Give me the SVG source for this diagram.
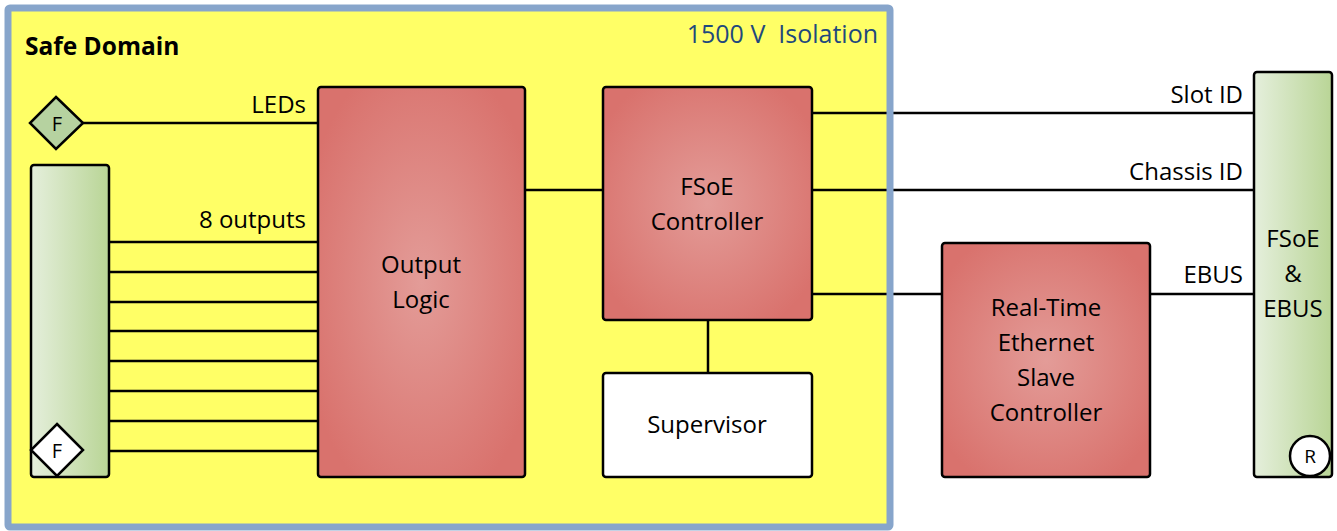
<svg xmlns="http://www.w3.org/2000/svg" width="1337" height="531" viewBox="0 0 1337 531">
<style>
.t{font-family:"Open Sans","Noto Sans",sans-serif;font-size:24px;fill:#000}
.m{text-anchor:middle}
.e{text-anchor:end}
.ln{stroke:#000;stroke-width:2.5;fill:none}
.red{fill:url(#rg);stroke:#000;stroke-width:2.5}
.grn{fill:url(#lg);stroke:#000;stroke-width:2.5}
</style>
<defs>
<radialGradient id="rg" cx="50%" cy="50%" r="60%">
<stop offset="0" stop-color="#e39c98"/>
<stop offset="1" stop-color="#d9726d"/>
</radialGradient>
<linearGradient id="lg" x1="0" y1="0" x2="1" y2="0">
<stop offset="0" stop-color="#e5efdc"/>
<stop offset="1" stop-color="#b9d596"/>
</linearGradient>
</defs>
<rect width="1337" height="531" fill="#fff"/>
<rect id="safe-fill" x="8" y="8" width="882" height="519" fill="#ffff66"/>
<g id="connectors">
<line class="ln" x1="83" y1="123" x2="318" y2="123"/>
<line class="ln" x1="109" y1="242" x2="318" y2="242"/>
<line class="ln" x1="109" y1="272" x2="318" y2="272"/>
<line class="ln" x1="109" y1="302" x2="318" y2="302"/>
<line class="ln" x1="109" y1="331" x2="318" y2="331"/>
<line class="ln" x1="109" y1="361" x2="318" y2="361"/>
<line class="ln" x1="109" y1="391" x2="318" y2="391"/>
<line class="ln" x1="109" y1="421" x2="318" y2="421"/>
<line class="ln" x1="109" y1="451" x2="318" y2="451"/>
<line class="ln" x1="525" y1="190" x2="603" y2="190"/>
<line class="ln" x1="708" y1="320" x2="708" y2="373"/>
<line class="ln" x1="812" y1="113" x2="1254" y2="113"/>
<line class="ln" x1="812" y1="190" x2="1254" y2="190"/>
<line class="ln" x1="812" y1="294" x2="942" y2="294"/>
<line class="ln" x1="1150" y1="294" x2="1254" y2="294"/>
</g>
<g id="safe-domain">
<rect x="8" y="8" width="882" height="519" rx="2" fill="none" stroke="#87a5cb" stroke-width="7"/>
<text x="25" y="55" style="font-family:'Open Sans','Noto Sans',sans-serif;font-size:24.5px;font-weight:bold">Safe Domain</text>
<text class="t e" x="878" y="43" xml:space="preserve" style="fill:#1f497d;font-size:25px">1500 V  Isolation</text>
</g>
<g id="labels">
<text class="t e" x="306" y="113">LEDs</text>
<text class="t e" x="306" y="228">8 outputs</text>
<text class="t e" x="1243" y="103">Slot ID</text>
<text class="t e" x="1243" y="180">Chassis ID</text>
<text class="t e" x="1243" y="283">EBUS</text>
</g>
<g id="led-diamond">
<polygon points="56,97 83,123 56,149 30,123" fill="#b6d2a0" stroke="#000" stroke-width="2.5"/>
<text class="t m" x="57" y="131" style="font-size:20px">F</text>
</g>
<g id="output-connector">
<rect class="grn" x="31" y="165" width="78" height="312" rx="3"/>
<polygon points="57,424 83,450 57,476 31,450" fill="#fff" stroke="#000" stroke-width="2.5"/>
<text class="t m" x="57" y="458" style="font-size:20px">F</text>
</g>
<g id="output-logic">
<rect class="red" x="318" y="87" width="207" height="390" rx="3"/>
<text class="t m" x="421" y="273">Output</text>
<text class="t m" x="421" y="308">Logic</text>
</g>
<g id="fsoe-controller">
<rect class="red" x="603" y="87" width="209" height="233" rx="3"/>
<text class="t m" x="707" y="195">FSoE</text>
<text class="t m" x="707" y="230">Controller</text>
</g>
<g id="supervisor">
<rect x="603" y="373" width="209" height="104" rx="3" fill="#fff" stroke="#000" stroke-width="2.5"/>
<text class="t m" x="707" y="433">Supervisor</text>
</g>
<g id="rt-esc">
<rect class="red" x="942" y="243" width="208" height="234" rx="3"/>
<text class="t m" x="1046" y="316">Real-Time</text>
<text class="t m" x="1046" y="351">Ethernet</text>
<text class="t m" x="1046" y="386">Slave</text>
<text class="t m" x="1046" y="421">Controller</text>
</g>
<g id="fsoe-ebus">
<rect class="grn" x="1254" y="72" width="78" height="405" rx="3"/>
<text class="t m" x="1293" y="247">FSoE</text>
<text class="t m" x="1293" y="282">&amp;</text>
<text class="t m" x="1293" y="317">EBUS</text>
<circle cx="1310" cy="456" r="20" fill="#fff" stroke="#000" stroke-width="2.5"/>
<text class="t m" x="1310" y="463" style="font-size:19px">R</text>
</g>
</svg>
